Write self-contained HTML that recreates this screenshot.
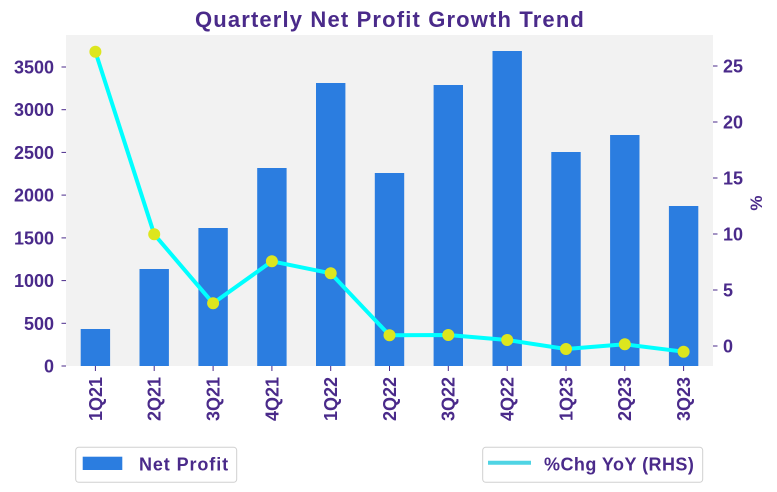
<!DOCTYPE html>
<html>
<head>
<meta charset="utf-8">
<style>
  html,body{margin:0;padding:0;background:#fff;}
  svg{display:block;}
  text{font-family:"Liberation Sans",sans-serif;fill:#4a2a8a;font-weight:bold;}
</style>
</head>
<body>
<svg width="777" height="492" viewBox="0 0 777 492" xmlns="http://www.w3.org/2000/svg">
  <!-- title -->
  <text x="195" y="27" font-size="22" letter-spacing="1.15">Quarterly Net Profit Growth Trend</text>
  <!-- plot bg -->
  <rect x="66" y="35" width="647" height="331" fill="#f2f2f2"/>
  <!-- bars -->
  <g fill="#2b7de0">
    <rect x="80.7" y="329" width="29.4" height="37"/>
    <rect x="139.5" y="269" width="29.4" height="97"/>
    <rect x="198.4" y="228" width="29.4" height="138"/>
    <rect x="257.2" y="168" width="29.4" height="198"/>
    <rect x="316.0" y="83" width="29.4" height="283"/>
    <rect x="374.8" y="173" width="29.4" height="193"/>
    <rect x="433.6" y="85" width="29.4" height="281"/>
    <rect x="492.5" y="51" width="29.4" height="315"/>
    <rect x="551.3" y="152" width="29.4" height="214"/>
    <rect x="610.1" y="135" width="29.4" height="231"/>
    <rect x="668.9" y="206" width="29.4" height="160"/>
  </g>
  <!-- line -->
  <polyline fill="none" stroke="#00ffff" stroke-width="4" stroke-linejoin="round"
    points="95.4,51.7 154.2,234.3 213.1,303.3 271.9,261.3 330.7,273.3 389.5,335.3 448.3,335 507.2,340 566.0,349 624.8,344.3 683.6,351.7"/>
  <g fill="#dde61e">
    <circle cx="95.4" cy="51.7" r="6"/>
    <circle cx="154.2" cy="234.3" r="6"/>
    <circle cx="213.1" cy="303.3" r="6"/>
    <circle cx="271.9" cy="261.3" r="6"/>
    <circle cx="330.7" cy="273.3" r="6"/>
    <circle cx="389.5" cy="335.3" r="6"/>
    <circle cx="448.3" cy="335" r="6"/>
    <circle cx="507.2" cy="340" r="6"/>
    <circle cx="566.0" cy="349" r="6"/>
    <circle cx="624.8" cy="344.3" r="6"/>
    <circle cx="683.6" cy="351.7" r="6"/>
  </g>
  <!-- left ticks -->
  <g stroke="#4a2a8a" stroke-width="1">
    <line x1="61.5" y1="366" x2="66" y2="366"/>
    <line x1="61.5" y1="323.3" x2="66" y2="323.3"/>
    <line x1="61.5" y1="280.6" x2="66" y2="280.6"/>
    <line x1="61.5" y1="237.9" x2="66" y2="237.9"/>
    <line x1="61.5" y1="195.1" x2="66" y2="195.1"/>
    <line x1="61.5" y1="152.4" x2="66" y2="152.4"/>
    <line x1="61.5" y1="109.7" x2="66" y2="109.7"/>
    <line x1="61.5" y1="67" x2="66" y2="67"/>
  </g>
  <g font-size="18" text-anchor="end">
    <text x="54" y="372.5">0</text>
    <text x="54" y="329.8">500</text>
    <text x="54" y="287.1">1000</text>
    <text x="54" y="244.4">1500</text>
    <text x="54" y="201.6">2000</text>
    <text x="54" y="158.9">2500</text>
    <text x="54" y="116.2">3000</text>
    <text x="54" y="73.5">3500</text>
  </g>
  <!-- right ticks -->
  <g stroke="#4a2a8a" stroke-width="1">
    <line x1="713" y1="346" x2="717.5" y2="346"/>
    <line x1="713" y1="290" x2="717.5" y2="290"/>
    <line x1="713" y1="234" x2="717.5" y2="234"/>
    <line x1="713" y1="178" x2="717.5" y2="178"/>
    <line x1="713" y1="122" x2="717.5" y2="122"/>
    <line x1="713" y1="66" x2="717.5" y2="66"/>
  </g>
  <g font-size="18" text-anchor="start">
    <text x="723" y="352.5">0</text>
    <text x="723" y="296.5">5</text>
    <text x="723" y="240.5">10</text>
    <text x="723" y="184.5">15</text>
    <text x="723" y="128.5">20</text>
    <text x="723" y="72.5">25</text>
  </g>
  <text x="0" y="0" font-size="17" text-anchor="middle" transform="translate(762,203) rotate(-90)">%</text>
  <!-- x ticks -->
  <g stroke="#4a2a8a" stroke-width="1">
    <line x1="95.4" y1="366" x2="95.4" y2="371"/>
    <line x1="154.2" y1="366" x2="154.2" y2="371"/>
    <line x1="213.1" y1="366" x2="213.1" y2="371"/>
    <line x1="271.9" y1="366" x2="271.9" y2="371"/>
    <line x1="330.7" y1="366" x2="330.7" y2="371"/>
    <line x1="389.5" y1="366" x2="389.5" y2="371"/>
    <line x1="448.3" y1="366" x2="448.3" y2="371"/>
    <line x1="507.2" y1="366" x2="507.2" y2="371"/>
    <line x1="566.0" y1="366" x2="566.0" y2="371"/>
    <line x1="624.8" y1="366" x2="624.8" y2="371"/>
    <line x1="683.6" y1="366" x2="683.6" y2="371"/>
  </g>
  <g font-size="18" text-anchor="end">
    <text transform="translate(101.8,377) rotate(-90)">1Q21</text>
    <text transform="translate(160.6,377) rotate(-90)">2Q21</text>
    <text transform="translate(219.5,377) rotate(-90)">3Q21</text>
    <text transform="translate(278.3,377) rotate(-90)">4Q21</text>
    <text transform="translate(337.1,377) rotate(-90)">1Q22</text>
    <text transform="translate(395.9,377) rotate(-90)">2Q22</text>
    <text transform="translate(454.7,377) rotate(-90)">3Q22</text>
    <text transform="translate(513.6,377) rotate(-90)">4Q22</text>
    <text transform="translate(572.4,377) rotate(-90)">1Q23</text>
    <text transform="translate(631.2,377) rotate(-90)">2Q23</text>
    <text transform="translate(690.0,377) rotate(-90)">3Q23</text>
  </g>
  <!-- legend 1 -->
  <rect x="75.7" y="447.3" width="161" height="35" rx="3" fill="#fff" stroke="#d0d0d0" stroke-width="1"/>
  <rect x="82.7" y="456.7" width="39.6" height="13.3" fill="#2b7de0"/>
  <text x="139" y="470.5" font-size="18" letter-spacing="0.9">Net Profit</text>
  <!-- legend 2 -->
  <rect x="482.7" y="447.3" width="220" height="35" rx="3" fill="#fff" stroke="#d0d0d0" stroke-width="1"/>
  <line x1="488" y1="462.7" x2="531" y2="462.7" stroke="#4fd4e4" stroke-width="4"/>
  <text x="544" y="470.5" font-size="18" letter-spacing="0.45">%Chg YoY (RHS)</text>
</svg>
</body>
</html>
